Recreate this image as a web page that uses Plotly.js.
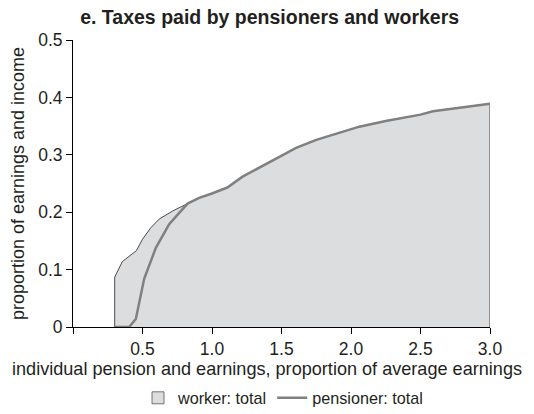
<!DOCTYPE html>
<html>
<head>
<meta charset="utf-8">
<script src="https://cdn.plot.ly/plotly-3.0.1.min.js"></script>
<style>
  html, body { margin: 0; padding: 0; background: #fff; }
  #plot { width: 534px; height: 414px; }
</style>
</head>
<body>
<div id="plot"></div>
<script>
// Worker: total (shaded area, closed down to zero at both ends)
const workerX = [0.30, 0.30, 0.355, 0.456, 0.50, 0.56, 0.62, 0.716, 0.824, 0.908, 1.004, 1.11, 1.22, 1.39, 1.605, 1.75, 2.06, 2.25, 2.50, 2.59, 2.78, 3.0, 3.0];
const workerY = [0, 0.087, 0.114, 0.133, 0.153, 0.173, 0.188, 0.202, 0.215, 0.225, 0.233, 0.243, 0.262, 0.284, 0.312, 0.326, 0.349, 0.359, 0.370, 0.376, 0.382, 0.389, 0];

// Pensioner: total (line)
const pensionerX = [0.30, 0.404, 0.452, 0.512, 0.596, 0.692, 0.824, 0.908, 1.004, 1.11, 1.22, 1.39, 1.605, 1.75, 2.06, 2.25, 2.50, 2.59, 2.78, 3.0];
const pensionerY = [0, 0, 0.014, 0.084, 0.138, 0.179, 0.215, 0.225, 0.233, 0.243, 0.262, 0.284, 0.312, 0.326, 0.349, 0.359, 0.370, 0.376, 0.382, 0.389];

const xTicks = [0, 0.5, 1.0, 1.5, 2.0, 2.5, 3.0];
const xTickText = ["", "0.5", "1.0", "1.5", "2.0", "2.5", "3.0"];
const yTicks = [0, 0.1, 0.2, 0.3, 0.4, 0.5];
const yTickText = ["0", "0.1", "0.2", "0.3", "0.4", "0.5"];

const textColor = "#231f20";
const fillGrey = "#dcdddf";

const worker = {
  x: workerX,
  y: workerY,
  type: "scatter",
  mode: "lines",
  fill: "toself",
  fillcolor: fillGrey,
  line: { color: "#222222", width: 0.8 },
  name: "worker: total",
  showlegend: false,
};

// legend box only, so the key shows a square like the original
const workerKey = {
  x: [null],
  y: [null],
  type: "bar",
  name: "worker: total",
  marker: { color: fillGrey, line: { color: "#555555", width: 0.8 } },
};

const pensioner = {
  x: pensionerX,
  y: pensionerY,
  type: "scatter",
  mode: "lines",
  line: { color: "#808080", width: 2.5 },
  name: "pensioner: total",
};

const layout = {
  width: 534,
  height: 414,
  margin: { l: 73, r: 44, t: 40, b: 87 },
  paper_bgcolor: "#ffffff",
  plot_bgcolor: "#ffffff",
  font: { family: "Liberation Sans, Arial, sans-serif", size: 17, color: textColor },
  title: {
    text: "<b>e. Taxes paid by pensioners and workers</b>",
    font: { size: 19.5, color: textColor },
    x: 0.505,
    xanchor: "center",
    y: 0.958,
    yanchor: "middle",
  },
  xaxis: {
    range: [0, 3.0],
    tickvals: xTicks,
    ticktext: xTickText,
    ticks: "outside",
    ticklen: 6,
    tickcolor: "#000",
    tickfont: { size: 17.5 },
    showline: true,
    linecolor: "#000",
    linewidth: 1,
    showgrid: false,
    zeroline: false,
  },
  yaxis: {
    range: [0, 0.5],
    tickvals: yTicks,
    ticktext: yTickText,
    ticks: "outside",
    ticklen: 6,
    tickcolor: "#000",
    tickfont: { size: 17.5 },
    showline: true,
    linecolor: "#000",
    linewidth: 1,
    showgrid: false,
    zeroline: false,
    title: {
      text: "proportion of earnings and income",
      font: { size: 18 },
      standoff: 8,
    },
  },
  // x title sits left of the plot centre in the original, so place it by hand
  annotations: [
    {
      text: "individual pension and earnings, proportion of average earnings",
      xref: "paper",
      yref: "paper",
      x: 0.466,
      y: -0.145,
      xanchor: "center",
      yanchor: "middle",
      showarrow: false,
      font: { size: 18.1, color: textColor },
    },
  ],
  bargap: 0,
  showlegend: true,
  legend: {
    orientation: "h",
    x: 0.53,
    xanchor: "center",
    xref: "container",
    y: 0.038,
    yref: "container",
    yanchor: "middle",
    font: { size: 16.2 },
    traceorder: "normal",
  },
};

Plotly.newPlot("plot", [worker, workerKey, pensioner], layout, {
  displayModeBar: false,
  staticPlot: true,
});
</script>
</body>
</html>
